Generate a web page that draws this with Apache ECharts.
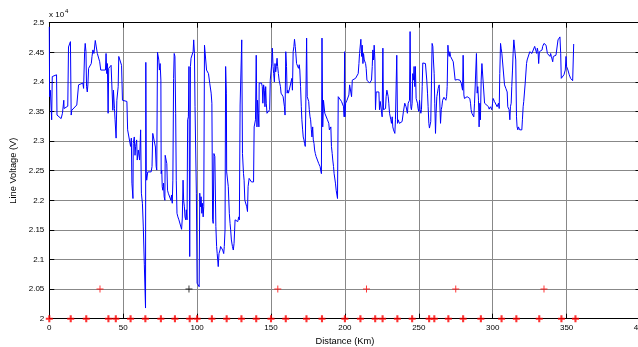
<!DOCTYPE html>
<html>
<head>
<meta charset="utf-8">
<script src="https://cdn.jsdelivr.net/npm/echarts@6/dist/echarts.min.js"></script>
<style>html,body{margin:0;padding:0;background:#fff;}#c{width:638px;height:347px;}</style>
</head>
<body>
<div id="c"></div>
<script>
// Blue trace: distance (km) and line voltage (V)
const distanceKm = [
0,0.2,0.7,1.6,2.0,4.9,5.2,8.0,8.9,9.8,10.0,12.5,13.0,13.4,14.3,14.8,15.2,18.6,19.8,22.7,23.2,23.9,24.3,24.8,25.2,25.7,26.1,26.6,28.4,28.9,29.5,30.2,31.1,31.8,32.5,34.1,34.8,38.0,38.4,38.9,39.3,39.8,40.2,41.8,42.5,43.0,43.4,44.1,44.5,45.2,45.7,46.6,47.0,48.0,48.9,49.5,52.5,53.0,54.3,55.0,55.5,55.9,56.6,56.8,57.5,58.0,58.4,59.1,59.5,60.2,61.1,61.8,62.3,63.0,63.6,64.3,64.8,65.1,65.3,65.6,65.9,66.6,68.9,69.5,70.0,71.1,71.8,72.3,72.7,
73.2,73.6,74.1,74.5,75.0,75.5,75.7,76.1,76.4,76.8,77.3,77.7,78.2,78.4,79.1,79.5,80.0,80.5,81.4,82.3,82.7,83.2,83.6,84.1,84.5,85.0,85.5,85.9,86.4,87.0,87.7,88.6,89.5,90.0,90.5,90.9,91.4,91.8,92.3,92.7,93.2,93.6,94.1,94.5,95.0,95.5,95.9,96.4,97.3,97.7,98.2,98.6,99.5,100.0,101.4,101.8,102.3,102.7,103.2,103.6,104.1,104.5,105.0,105.9,106.4,107.7,108.6,109.5,110.0,110.5,110.9,111.4,112.0,112.7,113.2,113.6,114.3,114.8,115.5,115.9,116.8,117.3,118.0,118.4,118.9,119.3,119.8,120.0,120.5,121.1,121.8,122.3,122.7,123.2,123.9,124.5,125.0,125.7,126.8,127.5,128.2,128.6,129.1,129.8,130.2,
130.7,131.4,131.8,132.3,133.0,133.6,134.1,134.5,135.2,135.9,136.8,137.7,138.2,138.6,139.1,139.5,140.0,140.5,140.9,141.4,141.8,142.0,142.7,143.6,144.1,144.5,145.0,145.5,145.9,146.4,146.8,147.3,148.2,149.1,149.5,150.0,150.5,150.9,151.4,151.8,152.3,152.7,153.2,153.6,154.1,154.5,155.0,155.5,155.9,156.4,156.8,157.3,157.7,158.2,158.6,159.1,159.5,160.0,160.5,160.9,161.4,161.8,162.3,163.2,163.6,164.1,164.5,165.0,165.5,165.9,166.4,166.8,167.3,167.7,168.2,168.6,169.1,169.5,170.0,170.5,170.9,171.4,171.8,172.3,172.7,173.2,173.6,174.1,174.5,175.0,175.5,175.9,176.4,176.8,177.3,177.7,178.2,178.6,179.1,179.5,180.0,180.5,180.9,181.4,182.3,183.2,184.1,184.5,185.0,185.5,185.9,186.4,187.3,188.2,189.1,189.5,190.0,190.5,190.9,191.4,191.8,192.3,192.7,193.6,194.1,195.0,195.5,195.9,196.8,
197.7,198.6,199.1,199.5,199.8,200.0,200.5,201.4,202.3,202.7,203.2,204.1,204.5,205.0,205.4,206.3,207.2,208.1,209.0,209.5,209.9,210.4,210.8,211.3,211.7,212.2,212.6,213.1,213.5,214.0,214.4,214.9,215.8,216.7,217.6,218.0,218.5,218.9,219.4,219.8,220.3,220.7,221.2,223.0,223.4,223.9,224.3,224.8,225.2,225.7,226.1,226.6,227.0,227.5,227.9,228.4,228.8,229.3,229.7,230.2,230.6,231.1,231.5,232.0,232.4,232.9,233.3,233.8,234.2,234.7,235.1,235.6,236.0,236.9,237.8,238.7,239.2,239.6,240.1,240.5,241.0,241.4,241.9,242.3,242.8,243.2,243.7,244.1,244.6,245.0,245.5,245.9,246.4,246.8,247.3,247.7,248.2,248.6,249.1,249.5,250.0,250.5,250.9,251.4,251.8,252.3,252.7,253.6,254.5,255.0,255.4,255.9,256.3,256.8,257.2,257.7,258.1,258.6,259.0,259.5,259.9,260.4,260.8,261.3,261.7,262.2,262.6,263.1,263.5,
263.8,264.3,264.7,265.2,265.6,266.1,267.0,268.3,268.8,269.2,269.7,270.1,270.6,271.0,271.5,272.4,273.3,274.2,274.6,276.0,277.8,278.7,279.1,279.6,280.0,280.5,280.9,281.8,282.7,284.5,285.0,285.4,285.9,286.3,286.8,287.2,287.7,288.6,289.0,289.5,289.9,290.4,290.8,291.3,291.7,292.2,292.7,294.0,294.5,295.8,297.2,297.6,298.5,299.4,299.9,300.3,301.2,302.1,303.0,303.5,303.9,304.4,304.8,305.3,305.7,306.2,307.5,308.0,308.9,309.3,309.8,310.2,311.1,311.6,312.0,312.5,312.9,313.4,313.8,314.3,315.2,315.6,316.1,316.5,317.0,317.4,318.3,319.2,319.7,320.1,320.6,321.0,321.5,322.0,322.4,322.9,323.3,324.2,325.1,325.6,326.5,326.9,327.8,
328.4,328.9,329.3,329.8,330.2,330.7,331.1,331.6,332.5,333.4,333.8,334.7,335.2,336.1,336.5,337.0,337.9,338.3,338.8,339.2,339.7,340.1,340.6,341.0,341.9,342.8,343.7,344.2,344.6,345.1,345.5,346.0,346.4,347.3,348.2,348.7,349.1,349.6,350.0,350.9,351.8,352.7,353.6,354.1,354.5,354.8
];
const lineVoltage = [
24930,23750,23860,23360,24090,24120,23440,23380,23470,23690,23550,23590,24590,24570,24680,23440,23520,23610,23950,23980,23890,24510,24650,24510,23920,23830,23950,24230,24310,24430,24540,24480,24700,24590,24480,24340,24200,24200,24480,24140,24310,23470,24230,24280,23830,23520,23860,23550,23360,23050,23690,23920,24430,24400,24280,23690,23670,23190,23160,22910,23050,22290,22030,22960,23070,22760,22910,23020,22680,22850,22680,23190,22120,21950,21550,20910,20880,20180,24330,22450,22340,22480,22480,22570,23130,23100,22900,22570,22510,
24500,24480,24370,24200,24310,24030,22450,22510,22230,22170,22290,22060,22000,22760,22790,22620,22170,22120,22090,22000,22090,21950,22340,24060,24480,24430,23470,22340,21780,21720,21670,21700,21510,21700,22340,22000,21890,21720,21670,21840,21670,23360,23410,24260,21050,24260,24400,24430,24510,24710,24480,23580,22120,20600,20540,22120,21890,22060,21780,21950,21720,21890,24620,24600,24200,24140,23970,23810,23640,21670,21610,22790,22740,21560,21220,21100,20880,21100,21160,21220,21250,21160,21100,21220,21500,24260,23810,22480,22450,22230,21780,21610,21500,21330,21220,21160,21270,21670,21700,21640,21720,21670,23610,23640,24710,
22790,22450,22340,22000,21980,21890,21810,22230,22370,22340,22310,22290,22310,23240,23240,23360,24450,23240,23690,23470,23240,23980,24000,23980,23920,23640,23950,23860,23580,23920,23640,23470,23500,23530,24030,24030,24310,24570,24260,24140,24000,24310,24170,24260,24400,24260,24140,24030,23980,23920,23810,23780,23810,23750,23780,23580,23440,24510,24260,23810,23860,23810,23860,23860,23890,24060,23860,24510,24600,24720,24600,24480,24310,24290,24310,24230,24290,24200,23920,23580,23360,23190,23070,23020,22960,22910,22880,24740,23750,23720,23670,23530,23410,23360,23190,23070,23240,23020,22960,22850,22790,22740,22710,22680,22620,22570,22450,24740,23240,23690,23670,23470,23440,23360,23300,23190,23160,23240,22910,22790,22680,22570,22450,22290,22170,22030,23750,23780,23720,
23670,23640,23580,23410,24510,23410,23640,23690,23690,23780,23950,23950,23750,24030,24000,24030,24060,24090,24140,24310,24480,24510,24720,24430,24620,24310,24480,24370,24340,24310,24230,24030,24000,23980,24000,24030,24260,24540,24370,24620,24370,23530,23830,23830,23530,23670,23690,23640,23410,24570,23530,23550,23530,23550,23750,23860,23830,23750,23640,23470,23500,23360,23300,23410,23240,23190,23160,23130,23360,23360,24450,23300,23360,23300,23300,23330,23360,23500,23530,23640,23610,23580,23550,23470,23640,23670,23690,24850,23580,23530,23640,24140,24030,24260,23920,24260,23720,23690,23640,23550,23500,23690,23530,23470,23530,23920,24320,24340,24310,24290,24030,23810,23580,23300,23220,23190,23330,24030,24650,24600,24370,24140,23640,23130,23470,23750,23810,23890,23920,
23950,23920,23300,23530,23580,23690,23740,23690,23750,23920,24620,24480,24430,24510,24430,24430,24340,24310,24030,24040,24030,23980,24000,23860,24450,23780,23720,23690,23750,23720,23640,23530,23470,23440,23500,23410,23640,23640,24480,23810,23920,23690,23240,23640,23360,24030,24310,24290,23640,23650,23580,23540,23580,23530,23640,23720,23670,23640,23580,23550,23640,23550,24140,24650,24570,24480,24480,23950,23890,23920,23830,23580,23530,23360,23580,23640,23920,24200,24480,24710,24680,24370,23410,23240,23190,23240,23190,23190,23190,23360,23580,23670,23690,23980,24000,24310,24370,24400,24510,24530,24480,24510,24480,
24600,24570,24620,24480,24570,24510,24310,24510,24510,24540,24600,24650,24660,24620,24610,24480,24480,24450,24430,24480,24430,24400,24340,24430,24400,24450,24480,24710,24740,24680,24760,24480,24060,24090,24120,24090,24200,24430,24260,24200,24120,24060,24030,24020,24030,24640
];

// Red markers on the baseline (2.0 x 10^4 V)
const baseMarkKm = [0,14.5,25,40,45,55,65,75.5,85,95,100,110,120,130,140,150,160,174,184.5,200,210.5,220.5,225.5,235.5,245.5,257,260.5,270,280,292,306,316,331.5,346.5,356];
const baseMarkV = 20000;
// Red markers at 2.05 x 10^4 V
const upperMarkKm = [34.3,154.6,214.6,275,334.7];
const upperMarkV = 20500;
// Black marker
const blackMarkKm = [94.5];
const blackMarkV = 20500;

const xTicks = {min: 0, max: 400, interval: 50};
const yTicks = {min: 20000, max: 25000, interval: 500};

const FONT = 'Liberation Sans, Arial, Helvetica, sans-serif';
const chart = echarts.init(document.getElementById('c'), null, {renderer: 'canvas'});

const tracePts = distanceKm.map((d, i) => [d, lineVoltage[i]]);
const thickPlus = 'path://M3.5,0H6.5V3.5H10V6.5H6.5V10H3.5V6.5H0V3.5H3.5Z';
const thinPlus = 'path://M4.3,0H5.7V4.3H10V5.7H5.7V10H4.3V5.7H0V4.3H4.3Z';

const axisCommon = {
  type: 'value',
  axisLine: {show: true, onZero: false, lineStyle: {color: '#000', width: 1}},
  axisTick: {show: true, inside: true, length: 5, lineStyle: {color: '#000', width: 1}},
};

chart.setOption({
  animation: false,
  backgroundColor: '#fff',
  grid: {left: 49.3, top: 22.7, width: 591.2, height: 296, containLabel: false, outerBoundsMode: 'none'},
  xAxis: [
    Object.assign({}, axisCommon, xTicks, {
      position: 'bottom',
      axisLabel: {color: '#000', fontSize: 8, fontFamily: FONT, margin: 5, showMaxLabel: true, hideOverlap: false},
      splitLine: {show: true, lineStyle: {color: '#888888', width: 1}},
      name: 'Distance (Km)', nameLocation: 'middle', nameGap: 12,
      nameTextStyle: {color: '#000', fontSize: 9.3, fontFamily: FONT}
    }),
    Object.assign({}, axisCommon, xTicks, {
      position: 'top', axisLabel: {show: false}, splitLine: {show: false}
    })
  ],
  yAxis: [
    Object.assign({}, axisCommon, yTicks, {
      position: 'left',
      axisLabel: {color: '#000', fontSize: 8, fontFamily: FONT, margin: 5,
        formatter: v => String(parseFloat((v / 10000).toFixed(2)))},
      splitLine: {show: true, lineStyle: {color: '#888888', width: 1}},
      name: 'Line Voltage (V)', nameLocation: 'middle', nameGap: 24,
      nameTextStyle: {color: '#000', fontSize: 9.3, fontFamily: FONT}
    }),
    Object.assign({}, axisCommon, yTicks, {
      position: 'right', axisLabel: {show: false}, splitLine: {show: false}
    })
  ],
  graphic: [{
    type: 'text', left: 49, top: 8, z: 10,
    style: {
      text: '{a|x 10}{b|4}',
      rich: {
        a: {fontSize: 8, fontFamily: FONT, fill: '#000', verticalAlign: 'bottom', padding: [3, 0, 0, 0]},
        b: {fontSize: 6, fontFamily: FONT, fill: '#000', verticalAlign: 'top', padding: [0, 0, 4, 1]}
      }
    }
  }],
  series: [
    {
      type: 'line', data: tracePts, showSymbol: false, symbol: 'none',
      lineStyle: {color: '#0000ff', width: 1}, z: 3, clip: true
    },
    {
      type: 'scatter', data: baseMarkKm.map(d => [d, baseMarkV]),
      symbol: thickPlus, symbolSize: 7, itemStyle: {color: '#ff0000'}, z: 5, clip: false
    },
    {
      type: 'scatter', data: upperMarkKm.map(d => [d, upperMarkV]),
      symbol: thinPlus, symbolSize: 7, itemStyle: {color: '#ff0000'}, z: 5, clip: false
    },
    {
      type: 'scatter', data: blackMarkKm.map(d => [d, blackMarkV]),
      symbol: thinPlus, symbolSize: 7, itemStyle: {color: '#000'}, z: 5, clip: false
    }
  ]
});
</script>
</body>
</html>
